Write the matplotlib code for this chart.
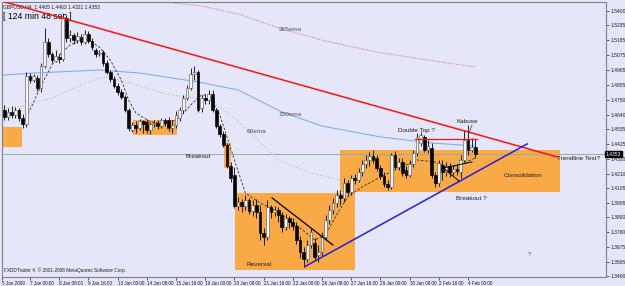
import matplotlib
matplotlib.use("Agg")
import matplotlib.pyplot as plt
import numpy as np

plt.rcParams['font.family'] = ['Liberation Sans', 'DejaVu Sans']

# ---------------- data (GBPUSD H4) ----------------
opens = [1.4676, 1.4624, 1.4661, 1.4639, 1.4676, 1.4617, 1.4573, 1.4924, 1.4895, 1.4910,
         1.4837, 1.4998, 1.5173, 1.5085, 1.5034, 1.5063, 1.5049, 1.5349, 1.5202, 1.5224,
         1.5188, 1.5210, 1.5173, 1.5232, 1.5180, 1.5115, 1.5085, 1.5100, 1.5019, 1.4954,
         1.4902, 1.4851, 1.4807, 1.4771, 1.4676, 1.4529, 1.4566, 1.4544, 1.4595, 1.4588,
         1.4529, 1.4573, 1.4580, 1.4558, 1.4602, 1.4602, 1.4544, 1.4566, 1.4617, 1.4676,
         1.4763, 1.4837, 1.4939, 1.4954, 1.4690, 1.4763, 1.4749, 1.4793, 1.4676, 1.4558,
         1.4500, 1.4419, 1.4266, 1.4200, 1.3973, 1.4002, 1.3973, 1.4017, 1.3936, 1.3980,
         1.3929, 1.3775, 1.3746, 1.3966, 1.3929, 1.3944, 1.3907, 1.3819, 1.3885, 1.3856,
         1.3827, 1.3724, 1.3636, 1.3585, 1.3687, 1.3702, 1.3614, 1.3636, 1.3746, 1.3871,
         1.3944, 1.3995, 1.4054, 1.4032, 1.4141, 1.4076, 1.4178, 1.4163, 1.4222, 1.4280,
         1.4310, 1.4339, 1.4324, 1.4251, 1.4193, 1.4134, 1.4112, 1.4346, 1.4258, 1.4295,
         1.4237, 1.4200, 1.4280, 1.4361, 1.4434, 1.4478, 1.4383, 1.4397, 1.4200, 1.4141,
         1.4273, 1.4222, 1.4266, 1.4222, 1.4244, 1.4222, 1.4310, 1.4456, 1.4383, 1.4405]
highs = [1.4712, 1.4690, 1.4705, 1.4698, 1.4690, 1.4646, 1.4954, 1.4946, 1.4939, 1.4932,
         1.5019, 1.5276, 1.5202, 1.5100, 1.5115, 1.5085, 1.5385, 1.5371, 1.5261, 1.5239,
         1.5246, 1.5232, 1.5261, 1.5254, 1.5202, 1.5129, 1.5115, 1.5115, 1.5041, 1.4968,
         1.4924, 1.4873, 1.4829, 1.4785, 1.4690, 1.4588, 1.4595, 1.4610, 1.4602, 1.4610,
         1.4588, 1.4602, 1.4602, 1.4617, 1.4617, 1.4624, 1.4602, 1.4668, 1.4698, 1.4785,
         1.4859, 1.4983, 1.4998, 1.4968, 1.4785, 1.4793, 1.4822, 1.4822, 1.4690, 1.4573,
         1.4522, 1.4434, 1.4295, 1.4258, 1.4039, 1.4024, 1.4054, 1.4032, 1.4017, 1.4024,
         1.3980, 1.3812, 1.4017, 1.3980, 1.3973, 1.3966, 1.3929, 1.3914, 1.3900, 1.3885,
         1.3856, 1.3753, 1.3673, 1.3724, 1.3812, 1.3739, 1.3687, 1.3783, 1.3907, 1.3980,
         1.4032, 1.4090, 1.4090, 1.4178, 1.4163, 1.4200, 1.4207, 1.4251, 1.4310, 1.4346,
         1.4368, 1.4383, 1.4346, 1.4273, 1.4222, 1.4163, 1.4361, 1.4376, 1.4324, 1.4324,
         1.4266, 1.4310, 1.4383, 1.4507, 1.4515, 1.4493, 1.4456, 1.4434, 1.4222, 1.4310,
         1.4310, 1.4295, 1.4288, 1.4273, 1.4273, 1.4346, 1.4529, 1.4566, 1.4471, 1.4463]
lows = [1.4602, 1.4602, 1.4617, 1.4617, 1.4595, 1.4544, 1.4551, 1.4873, 1.4881, 1.4815,
        1.4807, 1.4983, 1.5063, 1.5019, 1.5027, 1.5019, 1.5034, 1.5173, 1.5173, 1.5158,
        1.5166, 1.5151, 1.5158, 1.5166, 1.5115, 1.5063, 1.5071, 1.4998, 1.4939, 1.4881,
        1.4837, 1.4785, 1.4756, 1.4661, 1.4522, 1.4515, 1.4507, 1.4529, 1.4507, 1.4507,
        1.4500, 1.4551, 1.4537, 1.4544, 1.4558, 1.4522, 1.4507, 1.4544, 1.4595, 1.4654,
        1.4749, 1.4822, 1.4895, 1.4661, 1.4661, 1.4719, 1.4719, 1.4661, 1.4544, 1.4478,
        1.4405, 1.4251, 1.4149, 1.3958, 1.3944, 1.3929, 1.3944, 1.3914, 1.3900, 1.3885,
        1.3724, 1.3687, 1.3724, 1.3885, 1.3900, 1.3856, 1.3783, 1.3797, 1.3812, 1.3797,
        1.3695, 1.3592, 1.3526, 1.3563, 1.3665, 1.3578, 1.3563, 1.3607, 1.3724, 1.3841,
        1.3914, 1.3966, 1.3980, 1.4002, 1.4054, 1.4054, 1.4134, 1.4149, 1.4193, 1.4251,
        1.4266, 1.4288, 1.4229, 1.4171, 1.4112, 1.4090, 1.4098, 1.4244, 1.4237, 1.4193,
        1.4178, 1.4185, 1.4258, 1.4339, 1.4412, 1.4368, 1.4361, 1.4178, 1.4112, 1.4120,
        1.4163, 1.4193, 1.4185, 1.4200, 1.4200, 1.4178, 1.4295, 1.4346, 1.4368, 1.4321]
closes = [1.4624, 1.4661, 1.4639, 1.4676, 1.4617, 1.4573, 1.4924, 1.4895, 1.4924, 1.4837,
          1.4998, 1.5173, 1.5085, 1.5041, 1.5071, 1.5049, 1.5356, 1.5202, 1.5224, 1.5188,
          1.5217, 1.5173, 1.5232, 1.5180, 1.5136, 1.5085, 1.5093, 1.5019, 1.4954, 1.4902,
          1.4851, 1.4807, 1.4771, 1.4676, 1.4544, 1.4566, 1.4544, 1.4595, 1.4573, 1.4529,
          1.4573, 1.4580, 1.4558, 1.4602, 1.4580, 1.4544, 1.4566, 1.4639, 1.4676, 1.4763,
          1.4837, 1.4939, 1.4954, 1.4676, 1.4763, 1.4749, 1.4793, 1.4676, 1.4558, 1.4500,
          1.4419, 1.4266, 1.4178, 1.3973, 1.4002, 1.3973, 1.4017, 1.3936, 1.3980, 1.3929,
          1.3775, 1.3746, 1.3966, 1.3929, 1.3944, 1.3907, 1.3819, 1.3885, 1.3856, 1.3827,
          1.3724, 1.3636, 1.3585, 1.3687, 1.3783, 1.3600, 1.3636, 1.3746, 1.3871, 1.3944,
          1.3995, 1.4054, 1.4032, 1.4141, 1.4076, 1.4178, 1.4163, 1.4222, 1.4280, 1.4310,
          1.4339, 1.4310, 1.4251, 1.4193, 1.4134, 1.4112, 1.4346, 1.4258, 1.4295, 1.4215,
          1.4200, 1.4280, 1.4361, 1.4478, 1.4493, 1.4383, 1.4412, 1.4200, 1.4141, 1.4288,
          1.4222, 1.4266, 1.4222, 1.4244, 1.4229, 1.4310, 1.4456, 1.4383, 1.4405, 1.4353]

# moving averages (bar index, price)
ema365_bars = [44, 54, 64, 76, 88, 102, 116, 129]
ema365_vals = [1.5466, 1.5437, 1.5378, 1.5268, 1.5180, 1.5100, 1.5041, 1.4990]
ema150_bars = [-1, 0, 8, 26, 37, 53, 64, 76, 87, 103, 117, 129]
ema150_vals = [1.4932, 1.4932, 1.4946, 1.4968, 1.4946, 1.4881, 1.4822, 1.4661, 1.4558,
               1.4478, 1.4434, 1.4412]
ema60_bars = [-1, 0, 5, 13, 21, 26, 29, 37, 44, 50, 56, 62, 68, 75, 83, 92, 100, 110, 120, 129]
ema60_vals = [1.4690, 1.4690, 1.4705, 1.4763, 1.4859, 1.4910, 1.4917, 1.4851, 1.4793, 1.4771,
              1.4749, 1.4639, 1.4493, 1.4310, 1.4222, 1.4163, 1.4200, 1.4251, 1.4288, 1.4310]
fast_bars = [5, 7, 10, 13, 15, 18, 21, 23, 26, 29, 32, 34, 36, 40, 44, 48, 51, 54, 56, 59,
             63, 66, 70, 75, 81, 85, 88, 91, 94, 98, 103, 108, 113, 118, 122, 126, 129]
fast_vals = [1.4566, 1.4676, 1.4851, 1.5005, 1.5078, 1.5151, 1.5188, 1.5188, 1.5136, 1.5041,
             1.4895, 1.4749, 1.4654, 1.4588, 1.4573, 1.4617, 1.4712, 1.4785, 1.4785, 1.4639,
             1.4310, 1.4068, 1.3995, 1.3929, 1.3812, 1.3724, 1.3761, 1.3907, 1.4039, 1.4112,
             1.4185, 1.4251, 1.4310, 1.4295, 1.4251, 1.4288, 1.4324]

# price-axis labels and time-axis labels
price_ticks = [1.5400, 1.5295, 1.5185, 1.5075, 1.4965, 1.4855, 1.4750, 1.4640, 1.4535,
               1.4425, 1.4320, 1.4210, 1.4105, 1.3995, 1.3890, 1.3780, 1.3675, 1.3565, 1.3460]
time_tick_bars = [7, 15, 23, 31, 39, 47, 55, 63, 71, 79, 87, 95, 103, 111, 119, 127]
time_tick_labels = ['7 Jan 00:00', '8 Jan 08:00', '9 Jan 16:00', '13 Jan 00:00',
                    '14 Jan 08:00', '15 Jan 16:00', '19 Jan 00:00', '20 Jan 08:00',
                    '21 Jan 16:00', '23 Jan 00:00', '26 Jan 08:00', '27 Jan 16:00',
                    '29 Jan 00:00', '30 Jan 08:00', '2 Feb 16:00', '4 Feb 00:00']
bid = 1.4353

# drawn objects: rectangles (bar0, bar1, price_low, price_high)
boxes = [(-0.7, 4.8, 1.4405, 1.4551),
         (35.2, 47.3, 1.4493, 1.4602),
         (60.2, 62.1, 1.4251, 1.4434),
         (63.2, 96.0, 1.3504, 1.4068),
         (91.9, 152.2, 1.4076, 1.4383)]
red_trend = ([0.15, 151.4], [1.5466, 1.4332])
blue_trend = ([82.3, 143.2], [1.3529, 1.4427])
black_trend = ([73.3, 90.0], [1.4032, 1.3687])
double_top = ([112.5, 129.5], [1.4463, 1.4463])
tri_upper = ([120.2, 128.1], [1.4251, 1.4295])
tri_lower = ([120.2, 124.5], [1.4251, 1.4156])

# ---------------- drawing ----------------
BG = '#E6E6FA'
fig = plt.figure(figsize=(6.25, 2.86), dpi=100)
fig.patch.set_facecolor(BG)
ax = fig.add_axes([2 / 625, 9 / 286, 604 / 625, 275 / 286])
ax.set_facecolor(BG)
ax.set_xlim(-0.67, 164.8)
ax.set_ylim(1.34529, 1.54659)

for b0, b1, lo, hi in boxes:
    ax.add_patch(plt.Rectangle((b0, lo), b1 - b0, hi - lo, facecolor='#F9A946',
                               edgecolor='none', zorder=1))

ax.axhline(bid, color='#8FAF9F', lw=0.7, zorder=2)

ax.plot(ema365_bars, ema365_vals, color='#C878B8', lw=0.8, ls=(0, (1, 1.2)), zorder=2)
ax.plot(ema150_bars, ema150_vals, color='#7DB0E8', lw=0.8, zorder=2)
ax.plot(ema60_bars, ema60_vals, color='#A8C8B0', lw=0.8, ls=(0, (1, 1.5)), zorder=2)
ax.plot(fast_bars, fast_vals, color='#303030', lw=0.6, ls=(0, (3, 2)), zorder=2)

o = np.array(opens); h = np.array(highs); l = np.array(lows); c = np.array(closes)
idx = np.arange(len(c))
ax.vlines(idx, l, h, color='black', lw=0.6, zorder=3)
up = c >= o
body = np.maximum(np.abs(c - o), 0.0003)
ax.bar(idx[up], body[up], bottom=o[up], width=0.75, color='#F4F4F4',
       edgecolor='#606060', lw=0.45, zorder=4)
ax.bar(idx[~up], body[~up], bottom=c[~up], width=0.75, color='black',
       edgecolor='black', lw=0.45, zorder=4)

ax.plot(*red_trend, color='#FF1010', lw=1.1, zorder=5)
ax.plot(*blue_trend, color='#2020E0', lw=1.1, zorder=5)
ax.plot(*black_trend, color='black', lw=0.9, zorder=5)
ax.plot(*double_top, color='#FF1010', lw=0.9, zorder=5)
ax.plot(*tri_upper, color='black', lw=0.7, zorder=5)
ax.plot(*tri_lower, color='black', lw=0.7, zorder=5)

# annotations
tk = dict(fontsize=4.6, color='#202020', zorder=6)
ax.text(78.2, 1.5261, '365ema', ha='center', va='center', fontsize=4.6, color='#505050')
ax.text(78.2, 1.4639, '150ema', ha='center', va='center', fontsize=4.6, color='#505050')
ax.text(68.9, 1.4515, '60ema', ha='center', va='center', fontsize=4.6, color='#505050')
ax.text(53.0, 1.4332, 'Breakout', ha='center', va='center', **tk)
ax.text(69.7, 1.3541, 'Reversal', ha='center', va='center', **tk)
ax.text(113.0, 1.4522, 'Double Top ?', ha='center', va='center', **tk)
ax.text(126.7, 1.4588, 'Kabuse', ha='center', va='center', **tk)
ax.plot([128.1, 127.0], [1.4566, 1.4485], color='#404040', lw=0.5, zorder=6)
ax.text(142.1, 1.4193, 'Consolidation', ha='center', va='center', **tk)
ax.text(151.4, 1.4317, 'Trendline Test?', ha='left', va='center', **tk)
ax.text(127.8, 1.4024, 'Breakout ?', ha='center', va='center', **tk)
ax.text(143.7, 1.3621, '?', ha='center', va='center', fontsize=4, color='#404040')

ax.text(0.002, 0.993, 'GBPUSD,H4  1.4405 1.4463 1.4321 1.4353', transform=ax.transAxes,
        ha='left', va='top', fontsize=3.6, color='#202020')
ax.text(0.002, 0.965, '[ 124 min 48 sec ]', transform=ax.transAxes, ha='left', va='top',
        fontsize=6.2, color='black')
ax.text(0.004, 0.015, 'FXDDTrader 4, \u00a9 2001-2008 MetaQuotes Software Corp.',
        transform=ax.transAxes, ha='left', va='bottom', fontsize=3.4, color='#202020')

# axes styling
for s in ax.spines.values():
    s.set_color('#808080')
    s.set_linewidth(0.8)
ax.yaxis.tick_right()
ax.set_yticks(price_ticks)
ax.set_yticklabels([f'{v:.4f}' for v in price_ticks])
ax.tick_params(axis='y', length=2, width=0.5, pad=1.5, labelsize=3.6, colors='#202020')
ax.set_xticks([-0.67] + time_tick_bars)
ax.set_xticklabels(['5 Jan 2009'] + time_tick_labels)
ax.tick_params(axis='x', length=2, width=0.5, pad=1, labelsize=3.3, colors='#202020')
for lab in ax.get_xticklabels():
    lab.set_horizontalalignment('left')

ax.text(1.0, bid, '1.4353', transform=ax.get_yaxis_transform(), ha='left', va='center',
        fontsize=3.6, color='white', zorder=10,
        bbox=dict(boxstyle='square,pad=0.15', facecolor='black', edgecolor='black'))

fig.savefig('out.png', dpi=100, facecolor=BG)
